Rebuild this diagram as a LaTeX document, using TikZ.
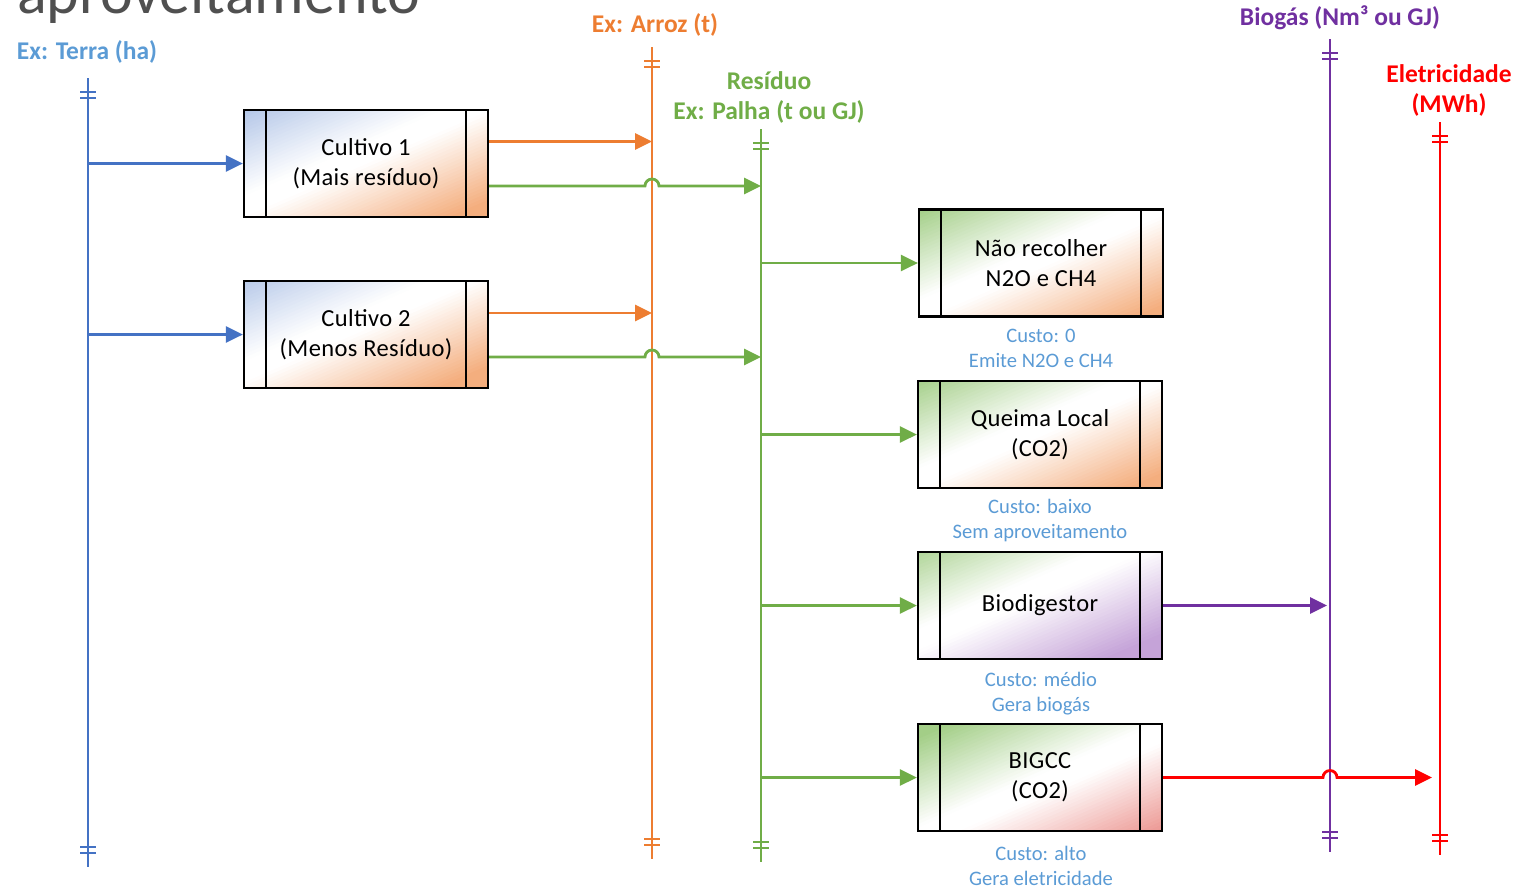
\documentclass[tikz,border=0pt]{standalone}
\usepackage{fontspec}
\setmainfont{Carlito}
\usetikzlibrary{arrows.meta}

\definecolor{cBus}{HTML}{4472C4}
\definecolor{cLbl}{HTML}{5B9BD5}
\definecolor{cOrg}{HTML}{ED7D31}
\definecolor{cGrn}{HTML}{70AD47}
\definecolor{cPur}{HTML}{7030A0}
\definecolor{cRed}{HTML}{FF0000}
\definecolor{cTitle}{HTML}{505050}
% corner tints of the process boxes
\definecolor{tBl}{HTML}{AFC3E6}
\definecolor{tOr}{HTML}{F4AE7E}
\definecolor{tGr}{HTML}{A3CE87}
\definecolor{tPu}{HTML}{C5A3D8}
\definecolor{tRe}{HTML}{EC9590}

% a vertical bus line with two hash marks at each end
\newcommand\drawbus[5]{%
  \coordinate (#1Top) at (#2,#3);
  \coordinate (#1Bot) at (#2,#4);
  \draw[bus,#5] (#1Top) -- (#1Bot);
  \draw[bus,#5] ([xshift=-8pt,yshift=-14pt]#1Top) -- ++(16,0)
                ([xshift=-8pt,yshift=-20pt]#1Top) -- ++(16,0)
                ([xshift=-8pt,yshift=14pt]#1Bot) -- ++(16,0)
                ([xshift=-8pt,yshift=20pt]#1Bot) -- ++(16,0);
}

% diagonal two-tint fill of a 244 x 107 box, built from thin bands
% parallel to the lower-left/upper-right diagonal; v runs from the
% bottom-right corner (-1) to the top-left corner (+1)
\newcommand\boxfill[2]{% top-left tint, bottom-right tint
  \begin{scope}[shift={(path picture bounding box.center)}]
    \foreach \i in {0,...,89}{
      \pgfmathsetmacro\va{-1.5+\i/30}
      \pgfmathsetmacro\vb{\va+1/30+0.01}
      \pgfmathsetmacro\vm{\va+1/60}
      \pgfmathsetmacro\amt{100*max(0,min(1,(abs(\vm)-0.1)/0.85))}
      \ifdim\vm pt>0pt \def\bandcol{#1}\else\def\bandcol{#2}\fi
      \fill[\bandcol!\amt!white]
        ({-300-122*\va},{130-53.5*\va}) -- ({300-122*\va},{-130-53.5*\va})
        -- ({300-122*\vb},{-130-53.5*\vb}) -- ({-300-122*\vb},{130-53.5*\vb}) -- cycle;
    }
  \end{scope}%
}

\begin{document}
\begin{tikzpicture}[x=1pt,y=-1pt,
  bus/.style={line width=2.8pt},
  flow/.style={line width=2.8pt,-{Triangle[length=17pt,width=16pt]}},
  % 244 x 107 box with 22 wide side strips
  procbox/.style 2 args={draw=black,line width=2.2pt,minimum width=244pt,minimum height=107pt,
    inner sep=0pt,align=center,
    font=\fontsize{24.5}{30}\selectfont\addfontfeatures{LetterSpace=1.5},
    path picture={\boxfill{#1}{#2}
      \draw[black,line width=2.2pt]
      ([xshift=22pt]path picture bounding box.north west) -- ([xshift=22pt]path picture bounding box.south west)
      ([xshift=-22pt]path picture bounding box.north east) -- ([xshift=-22pt]path picture bounding box.south east);}},
  buslabel/.style={font=\fontsize{25.5}{30}\selectfont\bfseries,align=center,inner sep=0pt},
  note/.style={font=\fontsize{20.6}{25}\selectfont,text=cLbl,align=center,inner sep=0pt}
]
\useasboundingbox (0,0) rectangle (1521,886);

% heading, partly outside the frame
\node[anchor=base west,inner sep=0pt,text=cTitle,font=\fontsize{62}{62}\selectfont] (title) at (17,13) {aproveitamento};

% buses
\drawbus{terra}{88}{78}{867}{cBus}
\drawbus{arroz}{652}{47}{859}{cOrg}
\drawbus{res}{761}{129}{862}{cGrn}
\drawbus{bio}{1330}{39}{852}{cPur}
\drawbus{ele}{1440}{122}{855}{cRed}

% bus labels
\node[buslabel,text=cLbl] (lTerra) at (87,52) {Ex: Terra (ha)};
\node[buslabel,text=cOrg] (lArroz) at (655,25) {Ex: Arroz (t)};
\node[buslabel,text=cGrn] (lRes) at (769,97) {Resíduo\\Ex: Palha (t ou GJ)};
\node[buslabel,text=cPur] (lBio) at (1340,18) {Biogás (Nm³ ou GJ)};
\node[buslabel,text=cRed] (lEle) at (1449,90) {Eletricidade\\(MWh)};

% process boxes
\node[procbox={tBl}{tOr}] (c1) at (366,163.5) {Cultivo 1\\(Mais resíduo)};
\node[procbox={tBl}{tOr}] (c2) at (366,334.5) {Cultivo 2\\(Menos Resíduo)};
\node[procbox={tGr}{tOr}] (nr) at (1041,263) {Não recolher\\N2O e CH4};
\node[procbox={tGr}{tOr}] (ql) at (1040,434.5) {Queima Local\\(CO2)};
\node[procbox={tGr}{tPu}] (bd) at (1040,605.5) {Biodigestor};
\node[procbox={tGr}{tRe}] (bg) at (1040,777.5) {BIGCC\\(CO2)};

% cost notes
\node[note] (nNr) at (1041,348.5) {Custo: 0\\Emite N2O e CH4};
\node[note] (nQl) at (1040,521) {Custo: baixo\\Sem aproveitamento};
\node[note] (nBd) at (1041,693.5) {Custo: médio\\Gera biogás};
\node[note] (nBg) at (1041,866) {Custo: alto\\Gera eletricidade};

% land to crops
\draw[flow,cBus] (c1.west -| terraTop) -- (c1.west);
\draw[flow,cBus] (c2.west -| terraTop) -- (c2.west);

% crop outputs
\coordinate (c1o) at ([yshift=22pt]c1.east);
\coordinate (c1g) at ([yshift=-22.5pt]c1.east);
\coordinate (c2o) at ([yshift=21.5pt]c2.east);
\coordinate (c2g) at ([yshift=-22.5pt]c2.east);
\draw[flow,cOrg] (c1o) -- (c1o -| arrozTop);
\draw[flow,cOrg] (c2o) -- (c2o -| arrozTop);
\draw[flow,cGrn] (c1g) -- ([xshift=-7pt]c1g -| arrozTop) arc[start angle=180,end angle=0,radius=7pt] -- (c1g -| resTop);
\draw[flow,cGrn] (c2g) -- ([xshift=-7pt]c2g -| arrozTop) arc[start angle=180,end angle=0,radius=7pt] -- (c2g -| resTop);

% residue routes
\draw[flow,cGrn] (nr.west -| resTop) -- (nr.west);
\draw[flow,cGrn] (ql.west -| resTop) -- (ql.west);
\draw[flow,cGrn] (bd.west -| resTop) -- (bd.west);
\draw[flow,cGrn] (bg.west -| resTop) -- (bg.west);

% energy products
\draw[flow,cPur,shorten >=3pt] (bd.east) -- (bd.east -| bioTop);
\draw[flow,cRed,shorten >=8pt] (bg.east) -- ([xshift=-7pt]bg.east -| bioTop) arc[start angle=180,end angle=0,radius=7pt] -- (bg.east -| eleTop);
\end{tikzpicture}
\end{document}
